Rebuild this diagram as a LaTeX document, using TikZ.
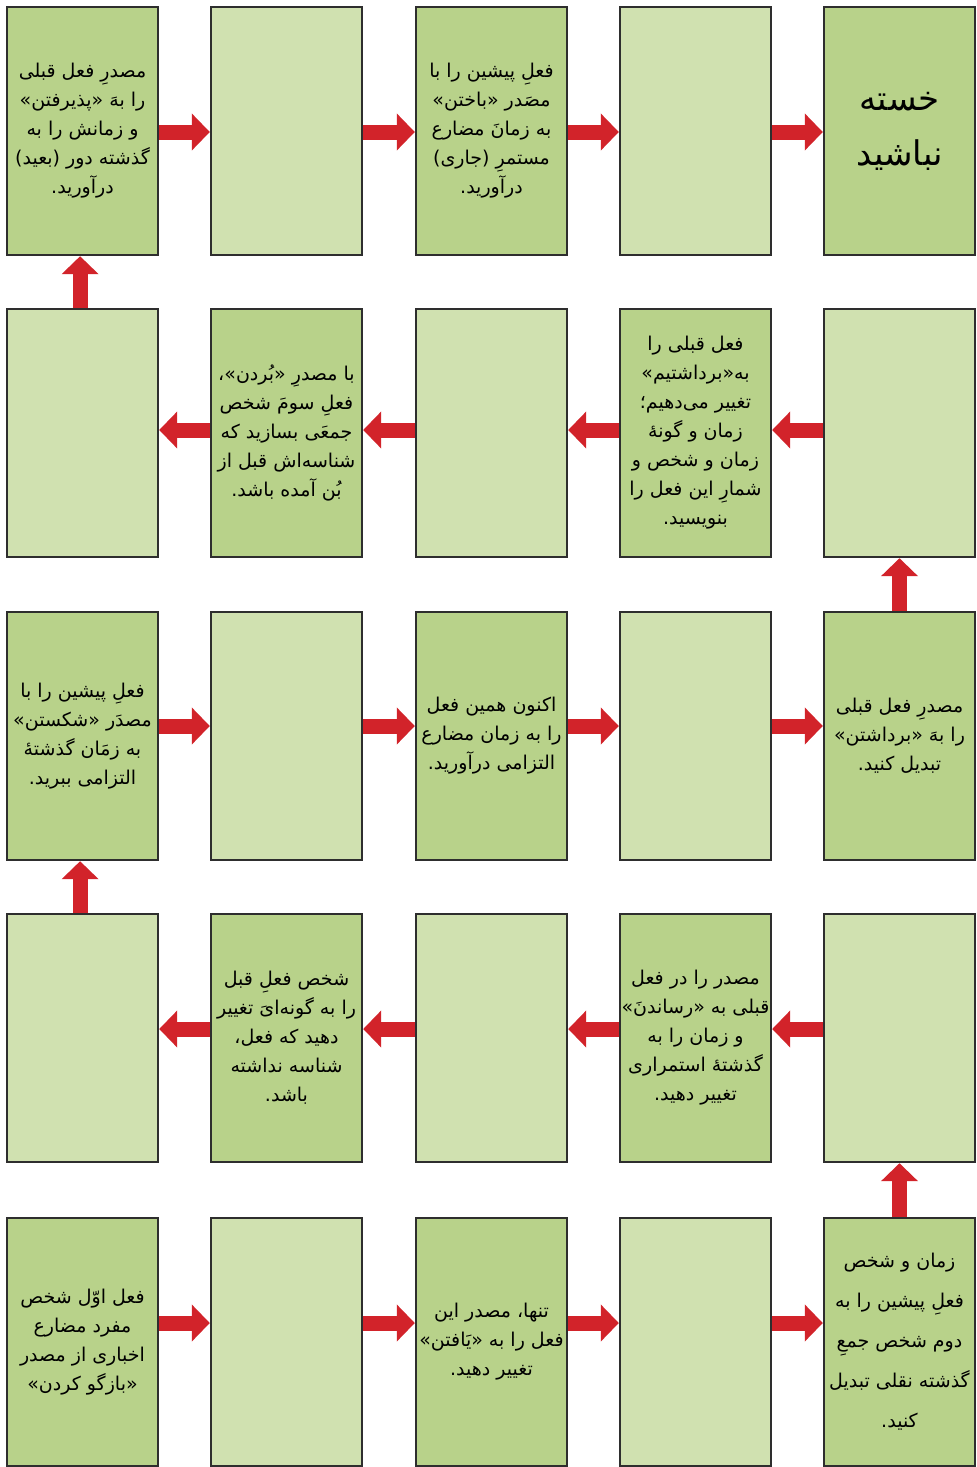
\documentclass[tikz,border=0pt]{standalone}
\usepackage{fontspec}
\usetikzlibrary{math}
\usetikzlibrary{arrows.meta}
\newfontfamily\arabicfont[Script=Arabic]{DejaVu Sans}
\TeXXeTstate=1
\newcommand{\faline}[1]{\beginR #1\endR}
\definecolor{darkbox}{HTML}{B8D28A}
\definecolor{lightbox}{HTML}{D0E1B0}
\definecolor{arrowred}{HTML}{D2232A}
\definecolor{boxline}{HTML}{2E2E2E}

\begin{document}
\begin{tikzpicture}[x=0.5pt,y=-0.5pt,
  box/.style={draw=boxline,line width=1.2pt,minimum width=75.5pt,minimum height=124pt,inner sep=0pt},
  txt/.style={align=center,inner sep=0pt,font=\arabicfont\fontsize{9.5pt}{14.5pt}\selectfont},
  flow/.style={draw=arrowred,line width=7.5pt,-{Triangle[width=18pt,length=9pt]}}]
\useasboundingbox (0,0) rectangle (977,1467);
%%%% boxes, dark where row+column is even
\foreach \r/\yy in {1/131,2/433,3/736,4/1038,5/1342} {
  \foreach \c/\xx in {1/82.5,2/286.5,3/491.5,4/695.5,5/899.5} {
    \pgfmathtruncatemacro{\odd}{mod(\r+\c,2)}
    \ifnum\odd=0 \def\boxfill{darkbox}\else\def\boxfill{lightbox}\fi
    \node[box,fill=\boxfill] (b\r\c) at (\xx,\yy) {};
  }
}
%%%% row 5 : left to right
\foreach \p/\q in {1/2,2/3,3/4,4/5}
  \draw[flow] ([yshift=9.5pt]b5\p.east) -- ([yshift=9.5pt]b5\q.west);
\draw[flow] (b55.north) -- (b45.south);
%%%% row 4 : right to left
\foreach \p/\q in {1/2,2/3,3/4,4/5}
  \draw[flow] ([yshift=4.5pt]b4\q.west) -- ([yshift=4.5pt]b4\p.east);
\draw[flow] ([xshift=-1.2pt]b41.north) -- ([xshift=-1.2pt]b31.south);
%%%% row 3 : left to right
\foreach \p/\q in {1/2,2/3,3/4,4/5}
  \draw[flow] ([yshift=5pt]b3\p.east) -- ([yshift=5pt]b3\q.west);
\draw[flow] (b35.north) -- (b25.south);
%%%% row 2 : right to left
\foreach \p/\q in {1/2,2/3,3/4,4/5}
  \draw[flow] ([yshift=1.5pt]b2\q.west) -- ([yshift=1.5pt]b2\p.east);
\draw[flow] ([xshift=-1.2pt]b21.north) -- ([xshift=-1.2pt]b11.south);
%%%% row 1 : left to right
\foreach \p/\q in {1/2,2/3,3/4,4/5}
  \draw[flow] ([yshift=-0.5pt]b1\p.east) -- ([yshift=-0.5pt]b1\q.west);
%%%% texts
\node[txt] (t51) at (b51) {\faline{فعل اوّل شخص}\\\faline{مفرد مضارع}\\\faline{اخباری از مصدر}\\\faline{«بازگو کردن»}};
\node[txt] (t53) at (b53) {\faline{تنها، مصدر این}\\\faline{فعل را به «یَافتن»}\\\faline{تغییر دهید.}};
\node[txt,font=\arabicfont\fontsize{9.5pt}{20pt}\selectfont] (t55) at (b55) {\faline{زمان و شخص}\\\faline{فعلِ پیشین را به}\\\faline{دوم شخص جمعِ}\\\faline{گذشته نقلی تبدیل}\\\faline{کنید.}};
\node[txt] (t44) at (b44) {\faline{مصدر را در فعل}\\\faline{قبلی به «رساندنَ»}\\\faline{و زمان را به}\\\faline{گذشتهٔ استمراری}\\\faline{تغییر دهید.}};
\node[txt] (t42) at (b42) {\faline{شخص فعلِ قبل}\\\faline{را به گونه‌ایَ تغییر}\\\faline{دهید که فعل،}\\\faline{شناسه نداشته}\\\faline{باشد.}};
\node[txt] (t31) at (b31) {\faline{فعلِ پیشین را با}\\\faline{مصدَر «شکستن»}\\\faline{به زمَان گذشتهٔ}\\\faline{التزامی ببرید.}};
\node[txt] (t33) at (b33) {\faline{اکنون همین فعل}\\\faline{را به زمان مضارع}\\\faline{التزامی درآورید.}};
\node[txt] (t35) at (b35) {\faline{مصدرِ فعل قبلی}\\\faline{را بهَ «برداشتن»}\\\faline{تبدیل کنید.}};
\node[txt] (t24) at (b24) {\faline{فعل قبلی را}\\\faline{به«برداشتیم»}\\\faline{تغییر می‌دهیم؛}\\\faline{زمان و گونهٔ}\\\faline{زمان و شخص و}\\\faline{شمارِ این فعل را}\\\faline{بنویسید.}};
\node[txt] (t22) at (b22) {\faline{با مصدرِ «بُردن»،}\\\faline{فعلِ سومَ شخص}\\\faline{جمعَی بسازید که}\\\faline{شناسه‌اش قبل از}\\\faline{بُن آمده باشد.}};
\node[txt] (t11) at (b11) {\faline{مصدرِ فعل قبلی}\\\faline{را بهَ «پذیرفتن»}\\\faline{و زمانش را به}\\\faline{گذشته دور (بعید)}\\\faline{درآورید.}};
\node[txt] (t13) at (b13) {\faline{فعلِ پیشین را با}\\\faline{مصَدر «باختن»}\\\faline{به زمانَ مضارع}\\\faline{مستمرِ (جاری)}\\\faline{درآورید.}};
\node[txt,font=\arabicfont\fontsize{17pt}{27.5pt}\selectfont] (t15) at (b15) {\faline{خسته}\\\faline{نباشید}};
\end{tikzpicture}
\end{document}
